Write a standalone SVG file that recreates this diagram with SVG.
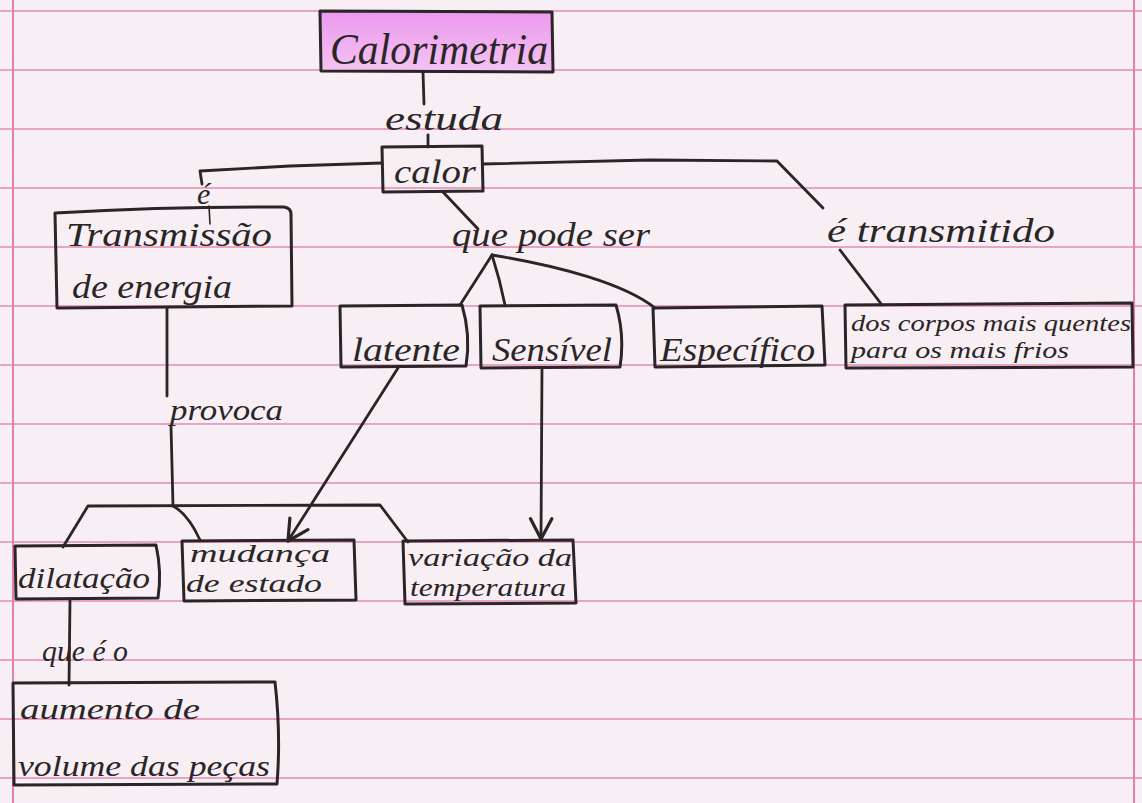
<svg xmlns="http://www.w3.org/2000/svg" width="1142" height="803" viewBox="0 0 1142 803">
  <defs>
    <linearGradient id="hilite" x1="0" y1="0" x2="0" y2="1">
      <stop offset="0" stop-color="#ec98ee"/>
      <stop offset="1" stop-color="#f3c4f1"/>
    </linearGradient>
    <marker id="vhead" markerUnits="userSpaceOnUse" markerWidth="30" markerHeight="30" refX="0" refY="0" viewBox="-22 -14 26 28" orient="auto" overflow="visible">
      <path d="M-19,-10 L0,0 L-19,10" fill="none" stroke="#2a2527" stroke-width="3" stroke-linecap="round" stroke-linejoin="round"/>
    </marker>
    <style>
      .rule { stroke: #e58ab4; stroke-width: 1.5; }
      .margin { stroke: #e87fab; stroke-width: 2; }
      .box { fill: none; stroke: #2a2527; stroke-width: 3; stroke-linejoin: round; }
      .wire { fill: none; stroke: #2a2527; stroke-width: 2.8; stroke-linecap: round; stroke-linejoin: round; }
      .thin { stroke-width: 1.6; }
      text { font-family: "Liberation Serif", "DejaVu Serif", serif; font-style: italic; fill: #2a2527; }
      .big { font-size: 44px; }
      .lbl { font-size: 34px; }
      .mid { font-size: 30px; }
      .pair { font-size: 25px; }
      .small { font-size: 24px; }
    </style>
  </defs>

  <!-- notebook paper -->
  <rect x="0" y="0" width="1142" height="803" fill="#f7eff3"/>
  <g id="paper-rules">
    <line class="rule" x1="0" y1="11" x2="1142" y2="11"/>
    <line class="rule" x1="0" y1="70" x2="1142" y2="70"/>
    <line class="rule" x1="0" y1="129" x2="1142" y2="129"/>
    <line class="rule" x1="0" y1="188" x2="1142" y2="188"/>
    <line class="rule" x1="0" y1="247" x2="1142" y2="247"/>
    <line class="rule" x1="0" y1="306" x2="1142" y2="306"/>
    <line class="rule" x1="0" y1="365" x2="1142" y2="365"/>
    <line class="rule" x1="0" y1="424" x2="1142" y2="424"/>
    <line class="rule" x1="0" y1="483" x2="1142" y2="483"/>
    <line class="rule" x1="0" y1="542" x2="1142" y2="542"/>
    <line class="rule" x1="0" y1="601" x2="1142" y2="601"/>
    <line class="rule" x1="0" y1="660" x2="1142" y2="660"/>
    <line class="rule" x1="0" y1="719" x2="1142" y2="719"/>
    <line class="rule" x1="0" y1="778" x2="1142" y2="778"/>
    <line class="margin" x1="13" y1="0" x2="13" y2="803"/>
    <line class="margin" x1="1134" y1="0" x2="1134" y2="803"/>
  </g>

  <!-- connectors -->
  <g id="connectors">
    <path class="wire" d="M423,72 L424,104"/>
    <path class="wire" d="M428,135 L428,147"/>
    <path class="wire" d="M382,163 L290,166 L200,171 L202,184"/>
    <path class="wire thin" d="M209,206 L210,224"/>
    <path class="wire" d="M443,192 L478,229"/>
    <path class="wire" d="M483,164 L650,160 L777,161 L823,208"/>
    <path class="wire" d="M840,250 L882,305"/>
    <path class="wire" d="M492,255 L460,305"/>
    <path class="wire" d="M492,255 Q500,280 505,305"/>
    <path class="wire" d="M492,255 C560,266 625,284 655,308"/>
    <path class="wire" d="M167,308 L167,396"/>
    <path class="wire" d="M171,426 L173,506"/>
    <path class="wire" d="M63,547 L88,506 L380,505 L408,542"/>
    <path class="wire" d="M173,506 Q188,514 200,540"/>
    <path class="wire" d="M70,599 L69,685"/>
    <path class="wire" d="M398,368 L288,541" marker-end="url(#vhead)"/>
    <path class="wire" d="M542,368 L541,539" marker-end="url(#vhead)"/>
  </g>

  <!-- concepts -->
  <g id="node-calorimetria">
    <path d="M320,11 L552,12 L553,72 L321,71 Z" fill="url(#hilite)" stroke="#2a2527" stroke-width="3" stroke-linejoin="round"/>
    <text class="big" x="330" y="64" textLength="218" lengthAdjust="spacingAndGlyphs">Calorimetria</text>
  </g>

  <g id="label-estuda">
    <text class="lbl" x="385" y="130" textLength="118" lengthAdjust="spacingAndGlyphs">estuda</text>
  </g>

  <g id="node-calor">
    <path class="box" d="M382,147 L482,146 L483,191 L383,192 Z"/>
    <text class="lbl" x="394" y="183" textLength="82" lengthAdjust="spacingAndGlyphs">calor</text>
  </g>

  <g id="label-e">
    <text class="mid" x="197" y="204">é</text>
  </g>

  <g id="node-transmissao">
    <path class="box" d="M55,213 Q170,206 284,207 Q291,208 291,214 L292,306 L57,308 Z"/>
    <text class="lbl" x="66" y="246" textLength="206" lengthAdjust="spacingAndGlyphs">Transmissão</text>
    <text class="lbl" x="72" y="298" textLength="160" lengthAdjust="spacingAndGlyphs">de energia</text>
  </g>

  <g id="label-que-pode-ser">
    <text class="lbl" x="452" y="246" textLength="198" lengthAdjust="spacingAndGlyphs">que pode ser</text>
  </g>

  <g id="label-e-transmitido">
    <text class="lbl" x="827" y="242" textLength="228" lengthAdjust="spacingAndGlyphs">é transmitido</text>
  </g>

  <g id="node-latente">
    <path class="box" d="M340,306 L462,305 Q471,335 466,366 L341,367 Z"/>
    <text class="lbl" x="352" y="361" textLength="108" lengthAdjust="spacingAndGlyphs">latente</text>
  </g>

  <g id="node-sensivel">
    <path class="box" d="M480,306 L616,305 Q625,335 620,367 L481,368 Z"/>
    <text class="lbl" x="492" y="361" textLength="120" lengthAdjust="spacingAndGlyphs">Sensível</text>
  </g>

  <g id="node-especifico">
    <path class="box" d="M653,308 L822,306 L825,365 L655,367 Z"/>
    <text class="lbl" x="660" y="361" textLength="155" lengthAdjust="spacingAndGlyphs">Específico</text>
  </g>

  <g id="node-corpos">
    <path class="box" d="M845,305 L1132,303 L1133,367 L846,368 Z"/>
    <text class="small" x="851" y="331" textLength="280" lengthAdjust="spacingAndGlyphs">dos corpos mais quentes</text>
    <text class="small" x="851" y="358" textLength="218" lengthAdjust="spacingAndGlyphs">para os mais frios</text>
  </g>

  <g id="label-provoca">
    <text class="mid" x="170" y="420" textLength="113" lengthAdjust="spacingAndGlyphs">provoca</text>
  </g>

  <g id="node-dilatacao">
    <path class="box" d="M15,546 L156,545 Q162,572 158,598 L16,599 Z"/>
    <text class="mid" x="18" y="588" textLength="132" lengthAdjust="spacingAndGlyphs">dilatação</text>
  </g>

  <g id="node-mudanca">
    <path class="box" d="M182,541 L354,540 L356,600 L184,601 Z"/>
    <text class="pair" x="190" y="562" textLength="140" lengthAdjust="spacingAndGlyphs">mudança</text>
    <text class="pair" x="186" y="592" textLength="136" lengthAdjust="spacingAndGlyphs">de estado</text>
  </g>

  <g id="node-variacao">
    <path class="box" d="M403,541 L573,540 L576,603 L405,604 Z"/>
    <text class="pair" x="408" y="566" textLength="164" lengthAdjust="spacingAndGlyphs">variação da</text>
    <text class="pair" x="410" y="596" textLength="156" lengthAdjust="spacingAndGlyphs">temperatura</text>
  </g>

  <g id="label-que-e-o">
    <text class="mid" x="42" y="661" textLength="86" lengthAdjust="spacingAndGlyphs">que é o</text>
  </g>

  <g id="node-aumento">
    <path class="box" d="M13,683 L275,682 Q281,735 277,784 L14,785 Z"/>
    <text class="mid" x="20" y="719" textLength="180" lengthAdjust="spacingAndGlyphs">aumento de</text>
    <text class="mid" x="18" y="776" textLength="252" lengthAdjust="spacingAndGlyphs">volume das peças</text>
  </g>
</svg>
